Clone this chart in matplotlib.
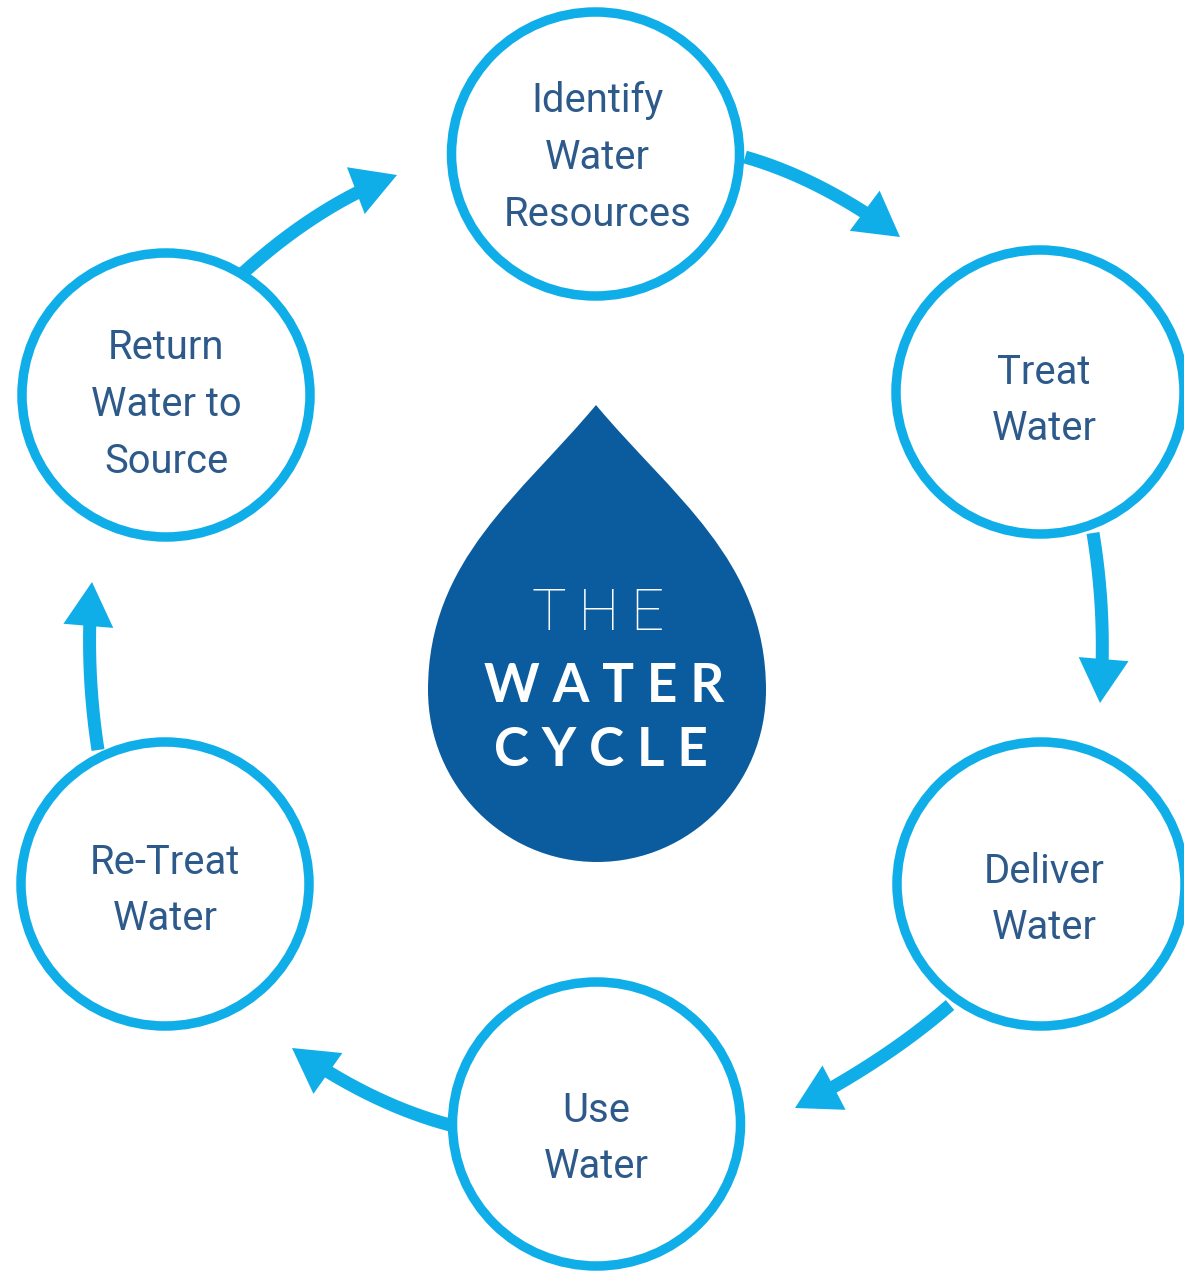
import matplotlib
matplotlib.use("Agg")
import matplotlib.pyplot as plt
from matplotlib.patches import Ellipse, PathPatch, Polygon
from matplotlib.path import Path
from matplotlib.lines import Line2D
import numpy as np

# ---------------- data ----------------
steps = ["Identify\nWater\nResources", "Treat\nWater", "Deliver\nWater",
         "Use\nWater", "Re-Treat\nWater", "Return\nWater to\nSource"]
node_x = [595.5, 1040, 1041, 596.5, 165, 166]
node_y = [154, 392, 884, 1124, 884, 395]

arrow_start = [(745, 157), (1093, 533), (950, 1005), (450, 1125), (98, 750), (243, 273)]
arrow_ctrl = [(822, 179), (1107, 618), (887, 1060), (371, 1104), (85, 666), (318, 205)]
arrow_tip = [(900, 237), (1100, 703), (795, 1108), (292, 1048), (92, 582), (397, 175)]

title_words = ["T\u2009H\u2009E", "W A T E R", "C Y C L E"]

# ---------------- layout / style ----------------
label_dx = [2, 4, 3, 0, 0, 0]
label_dy = [3.5, 8.5, 15.5, 14.5, 6.5, 9.5]

W, H = 1184, 1276
LIGHT = '#10aee8'
DARK = '#0b5c9f'
TEXT = '#2d5a8b'
PT = 72 / 100.0  # points per pixel

fig = plt.figure(figsize=(W / 100, H / 100), dpi=100)
ax = fig.add_axes([0, 0, 1, 1])
ax.set_xlim(0, W)
ax.set_ylim(H, 0)
ax.set_aspect('auto')
ax.axis('off')

# circles
RX, RY = 144, 142
for x, y, lab, dx, dy in zip(node_x, node_y, steps, label_dx, label_dy):
    ax.add_patch(Ellipse((x, y), 2 * RX, 2 * RY, fill=False, ec=LIGHT,
                         lw=9.5 * PT, zorder=3))
    ax.text(x + dx, y + dy, lab, ha='center', va='center', multialignment='center',
            fontsize=40 * PT, family='Roboto', fontweight='normal', color=TEXT,
            linespacing=1.58, zorder=4)

# arrows
HL, HW = 44, 25
for S, C, T in zip(arrow_start, arrow_ctrl, arrow_tip):
    S, C, T = np.array(S, float), np.array(C, float), np.array(T, float)
    t = np.linspace(0, 1, 400)[:, None]
    pts = (1 - t) ** 2 * S + 2 * (1 - t) * t * C + t ** 2 * T
    d = np.hypot(*(pts - T).T)
    keep = d >= HL - 4
    ax.add_line(Line2D(pts[keep, 0], pts[keep, 1], color=LIGHT, lw=13 * PT,
                       solid_capstyle='butt', zorder=2))
    u = (T - C) / np.hypot(*(T - C))
    n = np.array([-u[1], u[0]])
    B = T - HL * u
    ax.add_patch(Polygon([T, B + HW * n, B - HW * n], closed=True,
                         fc=LIGHT, ec='none', zorder=2))

# drop
cx = 597
tipx, tipy = 596, 405
wy, by = 690, 862
hw = 169
verts = [(tipx, tipy),
         (tipx - 75, tipy + 90), (cx - hw, wy - 130), (cx - hw, wy),
         (cx - hw, wy + 0.552 * (by - wy)), (cx - 0.552 * hw, by), (cx, by),
         (cx + 0.552 * hw, by), (cx + hw, wy + 0.552 * (by - wy)), (cx + hw, wy),
         (cx + hw, wy - 130), (tipx + 75, tipy + 90), (tipx, tipy),
         (tipx, tipy)]
codes = [Path.MOVETO] + [Path.CURVE4] * 12 + [Path.CLOSEPOLY]
ax.add_patch(PathPatch(Path(verts, codes), fc=DARK, ec='none', zorder=1))

ax.text(598, 630, title_words[0], ha='center', va='baseline', color='white',
        family=['Roboto', 'DejaVu Sans'], fontweight='light', fontsize=58 * PT, zorder=5)
ax.text(604, 702, title_words[1], ha='center', va='baseline', color='white',
        family='Lato', fontweight='bold', fontsize=53 * PT, zorder=5)
ax.text(601, 766, title_words[2], ha='center', va='baseline', color='white',
        family='Lato', fontweight='bold', fontsize=53 * PT, zorder=5)

fig.savefig('out.png', dpi=100, facecolor='white')
